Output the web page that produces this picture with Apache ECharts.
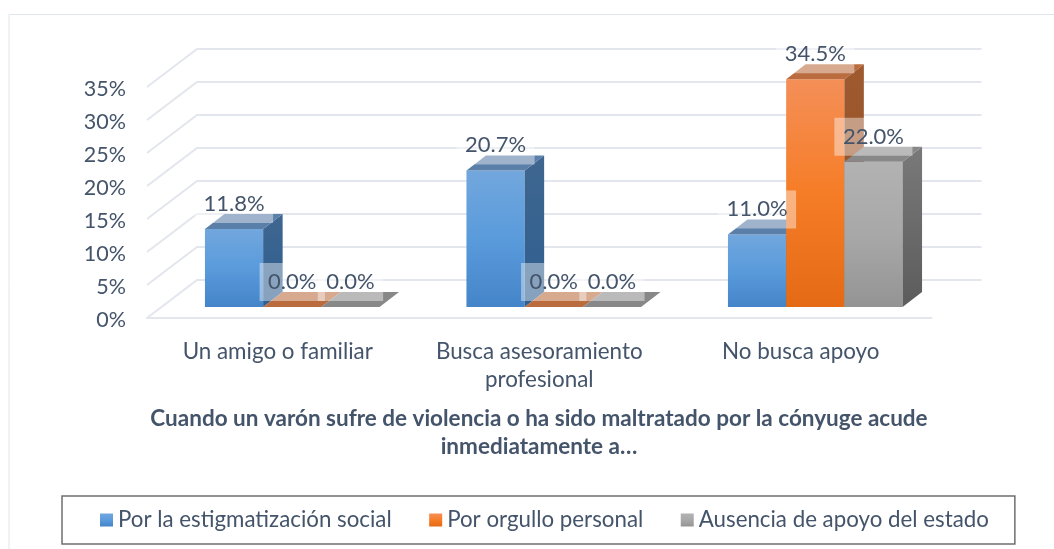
<!DOCTYPE html>
<html>
<head>
<meta charset="utf-8">
<style>html,body{margin:0;padding:0;background:#fff}#c{width:1054px;height:549px}</style>
<script src="https://cdn.jsdelivr.net/npm/echarts@6/dist/echarts.min.js"></script>
</head>
<body>
<div id="c"></div>
<script>
var categories = ['Un amigo o familiar', 'Busca asesoramiento\nprofesional', 'No busca apoyo'];
var tickValues = [0, 5, 10, 15, 20, 25, 30, 35];
var estigmatizacion = [11.8, 20.7, 11.0];
var orgullo = [0.0, 0.0, 34.5];
var ausencia = [0.0, 0.0, 22.0];
var seriesNames = ['Por la estigmatización social', 'Por orgullo personal', 'Ausencia de apoyo del estado'];
var titleText = 'Cuando un varón sufre de violencia o ha sido maltratado por la cónyuge acude\ninmediatamente a…';

var FONT = 'Lato';
var TEXT = '#44546a';
var GRID = '#e3e6ed';
var WALL = [50, -38];
var BAR_SHIFT = [14.5, -11];
var BAR_DEPTH = [19.5, -15];
var BAR_RATIO = 58.2 / 261.5;

function grad(stops) {
  return new echarts.graphic.LinearGradient(0, 0, 0, 1, stops.map(function (c, i) {
    return { offset: i / (stops.length - 1), color: c };
  }));
}
var palette = [
  { front: ['#72a7dd', '#5a9bdc', '#4484c8'], top: '#5a7fa8', side: ['#3f6690', '#2f5f90'] },
  { front: ['#f48f58', '#f67d27', '#e46a15'], top: '#bb6c3e', side: ['#a05a30', '#8e4c20'] },
  { front: ['#b2b2b2', '#a8a8a8', '#949494'], top: '#888888', side: ['#797979', '#5c5c5c'] }
];

function wallItem(params, api) {
  var cs = params.coordSys;
  var y = api.coord([0, api.value(1)])[1];
  var x0 = cs.x, x1 = cs.x + cs.width;
  return {
    type: 'polyline',
    silent: true,
    shape: { points: [[x0, y], [x0 + WALL[0], y + WALL[1]], [x1 + WALL[0], y + WALL[1]]] },
    style: { stroke: GRID, lineWidth: 2, fill: null }
  };
}

function barRenderer(idx) {
  return function (params, api) {
    var p = palette[idx];
    var cat = api.value(0), val = api.value(1);
    var top = api.coord([cat, val]);
    var base = api.coord([cat, 0]);
    var band = api.size([1, 0])[0];
    var w = band * BAR_RATIO;
    var xl = top[0] + (idx - 1.5) * w + BAR_SHIFT[0];
    var xr = xl + w;
    var yt = top[1] + BAR_SHIFT[1];
    var yb = base[1] + BAR_SHIFT[1];
    var dx = BAR_DEPTH[0], dy = BAR_DEPTH[1];
    var children = [];
    if (yb - yt > 0.5) {
      children.push({
        type: 'rect', shape: { x: xl, y: yt, width: w, height: yb - yt },
        style: { fill: grad(p.front) }
      });
    }
    children.push({
      type: 'polygon',
      shape: { points: [[xr, yt], [xr + dx, yt + dy], [xr + dx, yb + dy], [xr, yb]] },
      style: { fill: grad(p.side) }
    });
    children.push({
      type: 'polygon',
      shape: { points: [[xl, yt], [xl + dx, yt + dy], [xr + dx, yt + dy], [xr, yt]] },
      style: { fill: p.top }
    });
    children.push({
      type: 'text',
      z2: 100,
      style: {
        x: xl + w / 2,
        y: yt - 25,
        text: val.toFixed(1) + '%',
        align: 'center',
        verticalAlign: 'middle',
        fill: TEXT,
        font: '22px ' + FONT,
        backgroundColor: 'rgba(255,255,255,0.42)',
        padding: [11, 8.5, 5, 8.5]
      }
    });
    return { type: 'group', silent: true, children: children };
  };
}

function barSeries(idx, values) {
  return {
    type: 'custom',
    name: seriesNames[idx],
    clip: false,
    renderItem: barRenderer(idx),
    itemStyle: { color: grad(palette[idx].front) },
    encode: { x: 0, y: 1 },
    data: values.map(function (v, i) { return [i, v]; })
  };
}

var chart = echarts.init(document.getElementById('c'), null, { renderer: 'canvas' });
chart.setOption({
  animation: false,
  backgroundColor: '#fff',
  graphic: [{
    type: 'polyline', silent: true, z: -1,
    shape: { points: [[9, 549], [9, 14.5], [1054, 14.5]] },
    style: { stroke: '#dfe5ec', lineWidth: 1, fill: null }
  }],
  title: {
    text: titleText,
    left: 534, top: 400,
    textAlign: 'center',
    textStyle: { fontFamily: FONT, fontSize: 22.5, fontWeight: 'bold', color: TEXT, lineHeight: 28 }
  },
  legend: {
    data: seriesNames,
    left: 62, top: 496,
    padding: [13, 26, 13, 38],
    itemWidth: 13, itemHeight: 13, itemGap: 37.5,
    icon: 'rect',
    borderColor: '#6f6f6f', borderWidth: 1.5,
    selectedMode: false,
    textStyle: { fontFamily: FONT, fontSize: 22.3, color: TEXT }
  },
  grid: { left: 147, top: 87, width: 784.5, height: 231, containLabel: false },
  xAxis: {
    type: 'category',
    data: categories,
    axisTick: { show: false },
    axisLine: { lineStyle: { color: GRID, width: 2 } },
    axisLabel: { fontFamily: FONT, fontSize: 22.4, color: TEXT, lineHeight: 28, margin: 20, interval: 0 },
    splitLine: { show: false }
  },
  yAxis: {
    type: 'value', min: 0, max: 35, interval: 5,
    axisLine: { show: false }, axisTick: { show: false }, splitLine: { show: false },
    axisLabel: {
      formatter: '{a|{value}%}', margin: 21,
      rich: { a: { fontFamily: FONT, fontSize: 21.5, color: TEXT, padding: [4, 0, 0, 0] } }
    }
  },
  series: [{
    type: 'custom', name: 'wall', clip: false, silent: true, z: 1,
    renderItem: wallItem,
    encode: { x: 0, y: 1 },
    data: tickValues.map(function (t) { return [0, t]; })
  }, barSeries(0, estigmatizacion), barSeries(1, orgullo), barSeries(2, ausencia)]
});
</script>
</body>
</html>
